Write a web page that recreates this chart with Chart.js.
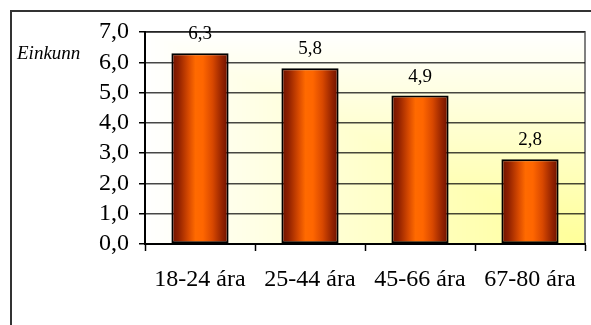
<!DOCTYPE html>
<html>
<head>
<meta charset="utf-8">
<script src="https://cdn.jsdelivr.net/npm/chart.js@4"></script>
<style>
  html, body { margin: 0; padding: 0; background: #fff; }
  #wrap { width: 591px; height: 325px; }
</style>
</head>
<body>
<div id="wrap"><canvas id="miGrafico" width="591" height="325"></canvas></div>
<script>
// datos del grafico
const flokkar = ['18-24 ára', '25-44 ára', '45-66 ára', '67-80 ára'];
const einkunnir = [6.3, 5.8, 4.9, 2.8];
const yTickLabels = ['0,0', '1,0', '2,0', '3,0', '4,0', '5,0', '6,0', '7,0'];
const asTitill = 'Einkunn';

const serif = '"Liberation Serif", "Times New Roman", serif';
const barPct = 0.52;

function sulurLitur(ctx) {
    const chart = ctx.chart;
    const x = chart.scales.x;
    if (!x || ctx.dataIndex === undefined) return '#ff6600';
    const cx = x.getPixelForValue(ctx.dataIndex);
    const w = (x.width / flokkar.length) * barPct;
    if (!isFinite(cx) || !isFinite(w) || w <= 0) return '#ff6600';
    const g = chart.ctx.createLinearGradient(cx - w / 2, 0, cx + w / 2, 0);
    g.addColorStop(0, '#6e1200');
    g.addColorStop(0.12, '#8f2000');
    g.addColorStop(0.3, '#d84a00');
    g.addColorStop(0.42, '#ff6a00');
    g.addColorStop(0.55, '#ff6600');
    g.addColorStop(0.72, '#d84800');
    g.addColorStop(0.88, '#962400');
    g.addColorStop(1, '#6a1000');
    return g;
}

// "from corner" halli: gulur nedst til haegri, hvitur til vinstri og efst
let hallaMynd = null;
function hornHalli(w, h) {
    if (hallaMynd && hallaMynd.width === w && hallaMynd.height === h) return hallaMynd;
    const cv = document.createElement('canvas');
    cv.width = w;
    cv.height = h;
    const c2 = cv.getContext('2d');
    const img = c2.createImageData(w, h);
    for (let y = 0; y < h; y++) {
        for (let x = 0; x < w; x++) {
            const t = Math.min(1, Math.max((w - 1 - x) / w, (h - 1 - y) / h));
            const i = (y * w + x) * 4;
            img.data[i] = 255;
            img.data[i + 1] = 255;
            img.data[i + 2] = Math.round(153 + (255 - 153) * t);
            img.data[i + 3] = 255;
        }
    }
    c2.putImageData(img, 0, 0);
    hallaMynd = cv;
    return cv;
}

const bakgrunnur = {
    id: 'bakgrunnur',
    beforeDraw(chart) {
        const c = chart.ctx;
        const a = chart.chartArea;
        c.save();
        c.fillStyle = '#ffffff';
        c.fillRect(0, 0, chart.width, chart.height);
        // ytri rammi
        c.strokeStyle = '#333333';
        c.lineWidth = 2;
        c.beginPath();
        c.moveTo(11, chart.height);
        c.lineTo(11, 11);
        c.lineTo(chart.width, 11);
        c.stroke();
        // teiknisvæði
        const w = Math.round(a.right - a.left);
        const h = Math.round(a.bottom - a.top);
        c.drawImage(hornHalli(w, h), a.left, a.top);
        c.strokeStyle = '#808080';
        c.lineWidth = 2;
        c.beginPath();
        c.moveTo(a.left, a.top);
        c.lineTo(a.right, a.top);
        c.lineTo(a.right, a.bottom);
        c.stroke();
        // titill asins
        c.fillStyle = '#000';
        c.font = 'italic 19px ' + serif;
        c.textBaseline = 'alphabetic';
        c.textAlign = 'left';
        c.fillText(asTitill, 17, 59);
        c.restore();
    },
    afterDatasetsDraw(chart) {
        const c = chart.ctx;
        const meta = chart.getDatasetMeta(0);
        c.save();
        c.fillStyle = '#000';
        c.font = '19px ' + serif;
        c.textAlign = 'center';
        c.textBaseline = 'alphabetic';
        meta.data.forEach(function (bar, i) {
            c.fillText(einkunnir[i].toFixed(1).replace('.', ','), bar.x, bar.y - 14);
        });
        c.restore();
    }
};

const ctx = document.getElementById('miGrafico').getContext('2d');
window.miGrafico = new Chart(ctx, {
    type: 'bar',
    data: {
        labels: flokkar,
        datasets: [{
            label: asTitill,
            data: einkunnir,
            backgroundColor: sulurLitur,
            borderColor: '#000000',
            borderWidth: 2,
            borderSkipped: false,
            categoryPercentage: 1,
            barPercentage: barPct
        }]
    },
    options: {
        responsive: false,
        animation: false,
        layout: { padding: { top: 32, right: 6, left: 0, bottom: 0 } },
        plugins: {
            legend: { display: false },
            tooltip: { enabled: false }
        },
        scales: {
            x: {
                afterFit(s) { s.height = 81; },
                grid: {
                    drawOnChartArea: false,
                    drawTicks: true,
                    tickLength: 7,
                    tickColor: '#000',
                    tickWidth: 1.5
                },
                border: { display: true, color: '#000', width: 2 },
                ticks: {
                    color: '#000',
                    padding: 14,
                    maxRotation: 0,
                    autoSkip: false,
                    font: { family: serif, size: 24 }
                }
            },
            y: {
                min: 0,
                max: 7,
                afterFit(s) { s.width = 145; },
                grid: {
                    color: 'rgba(0,0,0,0.72)',
                    lineWidth: 1.5,
                    tickLength: 6,
                    tickColor: '#000'
                },
                border: { display: true, color: '#000', width: 2 },
                ticks: {
                    stepSize: 1,
                    autoSkip: false,
                    color: '#000',
                    padding: 10,
                    font: { family: serif, size: 24 },
                    callback: function (v, i) { return yTickLabels[i]; }
                }
            }
        }
    },
    plugins: [bakgrunnur]
});
</script>
</body>
</html>
